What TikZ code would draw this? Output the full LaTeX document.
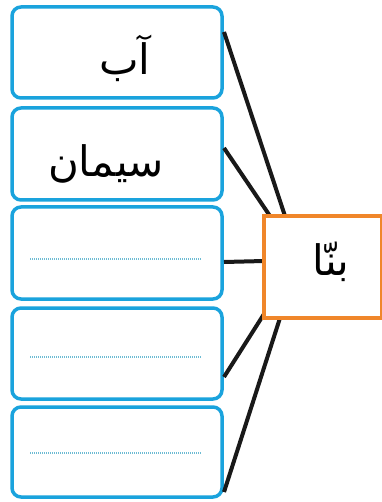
\documentclass[tikz,border=0pt]{standalone}
\usepackage{fontspec}
\newfontfamily\arabicfont[Script=Arabic]{DejaVu Sans}
\TeXXeTstate=1
\definecolor{boxblue}{HTML}{1AA3DD}
\definecolor{boxorange}{HTML}{F0862A}
\definecolor{dotblue}{HTML}{6DBBD3}
\begin{document}
\begin{tikzpicture}[x=1pt,y=-1pt,
  bluebox/.style={draw=boxblue,line width=3.5pt,rounded corners=9pt,fill=white},
  orangebox/.style={draw=boxorange,line width=3.5pt,fill=white},
  link/.style={line width=4pt,black!90},
  dotline/.style={dotblue,line width=1.2pt,dash pattern=on 1pt off 1pt},
  wordtext/.style={font=\arabicfont\fontsize{42}{46}\selectfont,inner sep=0pt}]
\useasboundingbox (0,0) rectangle (381,502);
\fill[white] (0,0) rectangle (381,502);
% boxes
\draw[bluebox] (12,7) rectangle (222,98);
\draw[bluebox] (12,108) rectangle (222,200);
\draw[bluebox] (12,207) rectangle (222,299);
\draw[bluebox] (12,308) rectangle (222,399);
\draw[bluebox] (12,407) rectangle (222,497);
\coordinate (b1) at (224,32);
\coordinate (b2) at (224,148);
\coordinate (b3) at (224,262);
\coordinate (b4) at (224,377);
\coordinate (b5) at (224,492);
\coordinate (o1) at (285,216);
\coordinate (o2) at (270,216);
\coordinate (o3) at (264,261);
\coordinate (o4) at (264,314);
\coordinate (o5) at (280,318);
\draw[link] (b1) -- (o1);
\draw[link] (b2) -- (o2);
\draw[link] (b3) -- (o3);
\draw[link] (b4) -- (o4);
\draw[link] (b5) -- (o5);
\draw[orangebox] (264,216) rectangle (382,318);
% texts
\node[wordtext] (t1) at (125,58) {\beginR آب\endR};
\node[wordtext] (t2) at (106,164) {\beginR سیمان\endR};
\node[wordtext] (t3) at (331,262) {\beginR بنّا\endR};
% dotted lines
\draw[dotline] (30,259) -- (201,259);
\draw[dotline] (30,357) -- (201,357);
\draw[dotline] (30,453) -- (201,453);
\end{tikzpicture}
\end{document}
